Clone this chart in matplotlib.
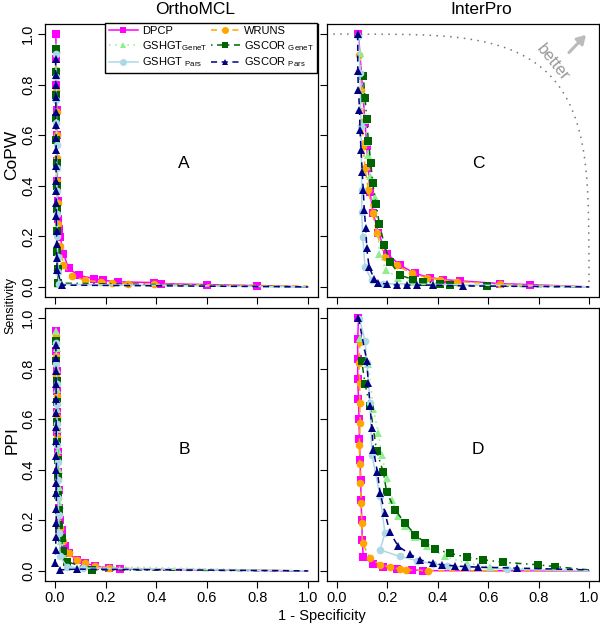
import numpy as np
import matplotlib
matplotlib.use("Agg")
import matplotlib.pyplot as plt
from matplotlib.lines import Line2D

plt.rcParams['font.family'] = ['Liberation Sans', 'DejaVu Sans']
plt.rcParams['mathtext.fontset'] = 'custom'
plt.rcParams['mathtext.rm'] = 'Liberation Sans'

# ---- data: (1 - specificity, sensitivity) ----
# panel A : OrthoMCL / CoPW
A_dpcp_x = [0.003, 0.004, 0.005, 0.006, 0.007, 0.008, 0.009, 0.010, 0.012, 0.015, 0.020, 0.033, 0.053, 0.093, 0.152, 0.190, 0.250, 0.390, 0.417, 0.600, 0.800, 1.000]
A_dpcp_y = [1.000, 0.900, 0.800, 0.700, 0.600, 0.500, 0.420, 0.340, 0.270, 0.230, 0.198, 0.132, 0.073, 0.046, 0.033, 0.026, 0.020, 0.017, 0.013, 0.009, 0.005, 0.000]
A_wruns_x = [0.003, 0.004, 0.005, 0.006, 0.007, 0.008, 0.009, 0.010, 0.012, 0.020, 0.033, 0.066, 0.119, 0.180, 0.225, 0.290, 0.390, 1.000]
A_wruns_y = [0.930, 0.860, 0.780, 0.690, 0.600, 0.510, 0.420, 0.330, 0.250, 0.160, 0.086, 0.042, 0.026, 0.020, 0.016, 0.013, 0.011, 0.003]
A_hgtg_x = [0.002, 0.003, 0.003, 0.004, 0.004, 0.005, 0.005, 0.006, 0.006, 0.007, 0.008, 0.010, 1.000]
A_hgtg_y = [0.950, 0.860, 0.770, 0.680, 0.590, 0.500, 0.410, 0.320, 0.240, 0.160, 0.080, 0.010, 0.000]
A_corg_x = [0.003, 0.004, 0.004, 0.005, 0.005, 0.006, 0.006, 0.007, 0.008, 0.009, 0.010, 0.012, 1.000]
A_corg_y = [0.940, 0.850, 0.760, 0.670, 0.580, 0.490, 0.400, 0.310, 0.220, 0.140, 0.070, 0.015, 0.000]
A_hgtp_x = [0.003, 0.004, 0.005, 0.005, 0.006, 0.006, 0.007, 0.008, 0.009, 0.010, 0.012, 0.016, 1.000]
A_hgtp_y = [0.920, 0.830, 0.740, 0.650, 0.560, 0.470, 0.380, 0.290, 0.200, 0.120, 0.060, 0.010, 0.000]
A_corp_x = [0.002, 0.002, 0.003, 0.003, 0.003, 0.003, 0.004, 0.004, 0.004, 0.004, 0.005, 0.005, 0.005, 0.006, 0.006, 0.007, 0.008, 0.026, 1.000]
A_corp_y = [0.900, 0.840, 0.800, 0.750, 0.690, 0.640, 0.590, 0.540, 0.480, 0.420, 0.380, 0.330, 0.280, 0.220, 0.170, 0.116, 0.066, 0.007, 0.000]

# panel B : OrthoMCL / PPI
B_dpcp_x = [0.004, 0.005, 0.006, 0.007, 0.008, 0.009, 0.010, 0.012, 0.014, 0.017, 0.020, 0.026, 0.040, 0.053, 0.086, 0.119, 0.159, 0.212, 0.258, 1.000]
B_dpcp_y = [0.950, 0.870, 0.790, 0.710, 0.630, 0.550, 0.470, 0.390, 0.320, 0.250, 0.200, 0.163, 0.100, 0.070, 0.044, 0.030, 0.020, 0.011, 0.007, 0.000]
B_wruns_x = [0.003, 0.004, 0.005, 0.006, 0.007, 0.008, 0.009, 0.011, 0.013, 0.016, 0.020, 0.030, 0.053, 0.086, 0.119, 0.159, 0.212, 1.000]
B_wruns_y = [0.930, 0.850, 0.770, 0.690, 0.610, 0.530, 0.450, 0.370, 0.290, 0.220, 0.170, 0.120, 0.070, 0.044, 0.030, 0.020, 0.011, 0.000]
B_hgtg_x = [0.005, 0.006, 0.007, 0.008, 0.009, 0.010, 0.012, 0.014, 0.016, 0.018, 0.020, 0.025, 0.035, 0.050, 1.000]
B_hgtg_y = [0.950, 0.880, 0.800, 0.720, 0.640, 0.560, 0.480, 0.400, 0.330, 0.260, 0.190, 0.120, 0.060, 0.020, 0.000]
B_corg_x = [0.004, 0.005, 0.006, 0.007, 0.008, 0.009, 0.010, 0.011, 0.012, 0.014, 0.016, 0.026, 0.033, 0.046, 0.146, 1.000]
B_corg_y = [0.910, 0.830, 0.750, 0.670, 0.590, 0.510, 0.440, 0.370, 0.300, 0.240, 0.180, 0.130, 0.077, 0.037, 0.004, 0.000]
B_hgtp_x = [0.004, 0.005, 0.006, 0.007, 0.008, 0.009, 0.010, 0.011, 0.012, 0.014, 0.016, 0.020, 0.046, 0.112, 1.000]
B_hgtp_y = [0.900, 0.820, 0.740, 0.660, 0.580, 0.500, 0.430, 0.360, 0.290, 0.220, 0.150, 0.057, 0.017, 0.011, 0.000]
B_corp_x = [0.003, 0.003, 0.004, 0.004, 0.004, 0.004, 0.004, 0.005, 0.005, 0.005, 0.005, 0.005, 0.005, 0.004, 0.003, 0.002, 0.000, 0.020, 0.086, 1.000]
B_corp_y = [0.893, 0.844, 0.791, 0.738, 0.681, 0.626, 0.570, 0.513, 0.456, 0.400, 0.347, 0.307, 0.245, 0.189, 0.136, 0.083, 0.030, 0.004, 0.007, 0.000]

# panel C : InterPro / CoPW
C_dpcp_x = [0.085, 0.111, 0.118, 0.124, 0.130, 0.144, 0.164, 0.197, 0.250, 0.310, 0.369, 0.422, 0.488, 0.647, 0.766, 1.000]
C_dpcp_y = [1.000, 0.648, 0.556, 0.470, 0.377, 0.291, 0.212, 0.132, 0.086, 0.053, 0.037, 0.029, 0.024, 0.013, 0.009, 0.000]
C_wruns_x = [0.089, 0.095, 0.104, 0.111, 0.124, 0.141, 0.157, 0.190, 0.237, 0.296, 0.356, 0.409, 0.475, 0.647, 1.000]
C_wruns_y = [0.919, 0.780, 0.556, 0.470, 0.384, 0.291, 0.212, 0.120, 0.086, 0.053, 0.037, 0.029, 0.021, 0.011, 0.000]
C_hgtg_x = [0.091, 0.102, 0.111, 0.118, 0.124, 0.131, 0.151, 0.168, 0.194, 0.243, 0.303, 0.382, 1.000]
C_hgtg_y = [0.926, 0.754, 0.661, 0.575, 0.522, 0.439, 0.357, 0.132, 0.066, 0.037, 0.020, 0.013, 0.000]
C_corg_x = [0.104, 0.111, 0.118, 0.124, 0.134, 0.141, 0.155, 0.168, 0.188, 0.210, 0.250, 0.303, 0.343, 0.409, 0.448, 0.594, 1.000]
C_corg_y = [0.833, 0.747, 0.664, 0.579, 0.492, 0.410, 0.327, 0.249, 0.165, 0.099, 0.046, 0.029, 0.020, 0.013, 0.007, 0.003, 0.000]
C_hgtp_x = [0.085, 0.091, 0.095, 0.098, 0.098, 0.102, 0.111, 0.138, 0.184, 1.000]
C_hgtp_y = [0.992, 0.847, 0.635, 0.384, 0.298, 0.198, 0.079, 0.026, 0.013, 0.000]
C_corp_x = [0.082, 0.082, 0.085, 0.089, 0.091, 0.095, 0.100, 0.104, 0.108, 0.114, 0.118, 0.127, 0.147, 0.164, 0.197, 0.237, 0.276, 0.316, 0.382, 0.500, 1.000]
C_corp_y = [1.000, 0.853, 0.780, 0.701, 0.622, 0.542, 0.456, 0.384, 0.304, 0.231, 0.152, 0.079, 0.033, 0.016, 0.011, 0.007, 0.007, 0.007, 0.007, 0.004, 0.000]

# panel D : InterPro / PPI
D_dpcp_x = [0.085, 0.082, 0.082, 0.082, 0.085, 0.087, 0.089, 0.091, 0.094, 0.095, 0.098, 0.100, 0.104, 0.144, 0.184, 0.237, 0.296, 0.343, 1.000]
D_dpcp_y = [1.000, 0.919, 0.837, 0.758, 0.679, 0.600, 0.520, 0.440, 0.361, 0.282, 0.202, 0.123, 0.054, 0.028, 0.015, 0.007, 0.004, 0.001, 0.000]
D_wruns_x = [0.091, 0.087, 0.090, 0.090, 0.092, 0.088, 0.090, 0.093, 0.096, 0.098, 0.101, 0.131, 0.171, 0.210, 0.250, 0.274, 0.362, 1.000]
D_wruns_y = [0.905, 0.822, 0.744, 0.666, 0.585, 0.500, 0.424, 0.346, 0.268, 0.188, 0.110, 0.050, 0.024, 0.015, 0.007, 0.004, 0.001, 0.000]
D_hgtg_x = [0.091, 0.124, 0.144, 0.164, 0.177, 0.197, 0.217, 0.243, 0.270, 0.310, 0.356, 0.429, 0.515, 0.607, 0.713, 1.000]
D_hgtg_y = [0.923, 0.817, 0.639, 0.546, 0.460, 0.368, 0.282, 0.216, 0.176, 0.136, 0.097, 0.057, 0.030, 0.017, 0.011, 0.000]
D_corg_x = [0.098, 0.111, 0.131, 0.157, 0.184, 0.197, 0.230, 0.270, 0.310, 0.349, 0.389, 0.448, 0.515, 0.581, 0.660, 0.799, 0.865, 1.000]
D_corg_y = [0.831, 0.738, 0.652, 0.474, 0.390, 0.311, 0.242, 0.189, 0.143, 0.112, 0.086, 0.070, 0.054, 0.044, 0.034, 0.024, 0.017, 0.004]
D_hgtp_x = [0.089, 0.111, 0.118, 0.131, 0.138, 0.171, 0.190, 0.171, 0.250, 0.316, 0.382, 0.435, 0.515, 0.673, 1.000]
D_hgtp_y = [0.996, 0.910, 0.824, 0.665, 0.460, 0.295, 0.149, 0.083, 0.057, 0.041, 0.028, 0.020, 0.015, 0.007, 0.000]
D_corp_x = [0.085, 0.118, 0.124, 0.131, 0.138, 0.144, 0.160, 0.171, 0.190, 0.210, 0.243, 0.290, 0.329, 0.382, 0.415, 0.468, 0.508, 0.561, 0.713, 1.000]
D_corp_y = [1.000, 0.831, 0.742, 0.652, 0.566, 0.480, 0.392, 0.308, 0.229, 0.152, 0.097, 0.066, 0.044, 0.030, 0.024, 0.020, 0.017, 0.015, 0.011, 0.004]

methods = ['DPCP', 'GSHGT_GeneT', 'GSHGT_Pars', 'WRUNS', 'GSCOR_GeneT', 'GSCOR_Pars']
labels = ['DPCP', r'GSHGT$_{\rm GeneT}$', r'GSHGT $_{\rm Pars}$',
          'WRUNS', r'GSCOR $_{\rm GeneT}$', r'GSCOR $_{\rm Pars}$']

styles = {
    'DPCP':        dict(color='#FF00FF', ls='-', marker='s'),
    'WRUNS':       dict(color='#FFA500', ls=(0, (4, 3)), marker='o'),
    'GSHGT_GeneT': dict(color='#90EE90', ls=(0, (1, 3)), marker='^'),
    'GSCOR_GeneT': dict(color='#006400', ls=(0, (1, 3, 4, 3)), marker='s'),
    'GSHGT_Pars':  dict(color='#ADD8E6', ls='-', marker='o'),
    'GSCOR_Pars':  dict(color='#000080', ls=(0, (4, 3)), marker='^'),
}

panels = {
    'A': {'DPCP': (A_dpcp_x, A_dpcp_y), 'WRUNS': (A_wruns_x, A_wruns_y),
          'GSHGT_GeneT': (A_hgtg_x, A_hgtg_y), 'GSCOR_GeneT': (A_corg_x, A_corg_y),
          'GSHGT_Pars': (A_hgtp_x, A_hgtp_y), 'GSCOR_Pars': (A_corp_x, A_corp_y)},
    'B': {'DPCP': (B_dpcp_x, B_dpcp_y), 'WRUNS': (B_wruns_x, B_wruns_y),
          'GSHGT_GeneT': (B_hgtg_x, B_hgtg_y), 'GSCOR_GeneT': (B_corg_x, B_corg_y),
          'GSHGT_Pars': (B_hgtp_x, B_hgtp_y), 'GSCOR_Pars': (B_corp_x, B_corp_y)},
    'C': {'DPCP': (C_dpcp_x, C_dpcp_y), 'WRUNS': (C_wruns_x, C_wruns_y),
          'GSHGT_GeneT': (C_hgtg_x, C_hgtg_y), 'GSCOR_GeneT': (C_corg_x, C_corg_y),
          'GSHGT_Pars': (C_hgtp_x, C_hgtp_y), 'GSCOR_Pars': (C_corp_x, C_corp_y)},
    'D': {'DPCP': (D_dpcp_x, D_dpcp_y), 'WRUNS': (D_wruns_x, D_wruns_y),
          'GSHGT_GeneT': (D_hgtg_x, D_hgtg_y), 'GSCOR_GeneT': (D_corg_x, D_corg_y),
          'GSHGT_Pars': (D_hgtp_x, D_hgtp_y), 'GSCOR_Pars': (D_corp_x, D_corp_y)},
}

W, H = 600, 626
fig = plt.figure(figsize=(W / 100, H / 100), dpi=100)

def px_axes(l, t, r, b):
    return fig.add_axes([l / W, 1 - b / H, (r - l) / W, (b - t) / H])

axes = {
    'A': px_axes(45, 24, 318, 297),
    'C': px_axes(327, 24, 599, 297),
    'B': px_axes(45, 308, 318, 581),
    'D': px_axes(327, 308, 599, 581),
}
letter_pos = {'A': (0.51, 0.49), 'C': (0.56, 0.49), 'B': (0.51, 0.48), 'D': (0.56, 0.48)}

draw_order = ['DPCP', 'WRUNS', 'GSHGT_GeneT', 'GSCOR_GeneT', 'GSHGT_Pars', 'GSCOR_Pars']
ticks = [0.0, 0.2, 0.4, 0.6, 0.8, 1.0]

for key, ax in axes.items():
    for m in draw_order:
        x, y = panels[key][m]
        st = styles[m]
        ax.plot(x, y, color=st['color'], linestyle=st['ls'], lw=1.1,
                marker=st['marker'], markersize=5.5, markeredgewidth=0,
                markevery=slice(0, len(x) - 1))
    ax.set_xlim(-0.04, 1.04)
    ax.set_ylim(-0.04, 1.04)
    ax.set_xticks(ticks)
    ax.set_yticks(ticks)
    ax.set_xticklabels(['%.1f' % t for t in ticks])
    ax.set_yticklabels(['%.1f' % t for t in ticks])
    ax.tick_params(direction='out', length=5, width=0.8, labelsize=10.5, pad=2)
    for sp in ax.spines.values():
        sp.set_linewidth(0.9)
    if key in ('A', 'C'):
        ax.tick_params(axis='x', labelbottom=False)
    if key in ('C', 'D'):
        ax.tick_params(axis='y', labelleft=False)
    else:
        plt.setp(ax.get_yticklabels(), rotation=90, va='center')
    lx, ly = letter_pos[key]
    ax.text(lx, ly, key, fontsize=12.5, ha='center', va='center')

# "better" guide in panel C
axC = axes['C']
t = np.linspace(0, np.pi / 2, 200)
gx = np.cos(t) ** 0.5
gy = np.sin(t) ** 0.5
axC.plot(np.r_[-0.015, gx[::-1]], np.r_[1.0, gy[::-1]], color='#777777',
         linestyle=(0, (1, 3.5)), lw=1.1)
axC.annotate('', xy=(0.996, 1.005), xytext=(0.913, 0.919),
             arrowprops=dict(arrowstyle='-|>,head_length=0.5,head_width=0.3',
                             color='#BBBBBB', lw=2.2))
axC.text(0.857, 0.888, 'better', color='#999999', fontsize=12, rotation=-51,
         ha='center', va='center')

# titles and labels
fig.text(195 / W, 1 - 10 / H, 'OrthoMCL', fontsize=12.5, ha='center', va='center')
fig.text(481 / W, 1 - 10 / H, 'InterPro', fontsize=12.5, ha='center', va='center')
fig.text(12 / W, 1 - 155 / H, 'CoPW', fontsize=12.5, rotation=90, ha='center', va='center')
fig.text(12 / W, 1 - 440 / H, 'PPI', fontsize=12.5, rotation=90, ha='center', va='center')
fig.text(10 / W, 1 - 305 / H, 'Sensitivity', fontsize=9, rotation=90, ha='center', va='center')
fig.text(322 / W, 1 - 616 / H, '1 - Specificity', fontsize=10.5, ha='center', va='center')

handles = []
for m in methods:
    st = styles[m]
    handles.append(Line2D([], [], color=st['color'], linestyle=st['ls'], lw=1.1,
                          marker=st['marker'], markersize=5, markeredgewidth=0))
fig.legend(handles, labels, ncol=2, loc='upper right',
           bbox_to_anchor=(317 / W, 1 - 23 / H), bbox_transform=fig.transFigure,
           fancybox=False, edgecolor='black', framealpha=1, fontsize=8,
           handlelength=2.6, numpoints=1, borderpad=0.3, labelspacing=0.25,
           columnspacing=0.3, handletextpad=0.4, borderaxespad=0)

fig.savefig('out.png', dpi=100)
